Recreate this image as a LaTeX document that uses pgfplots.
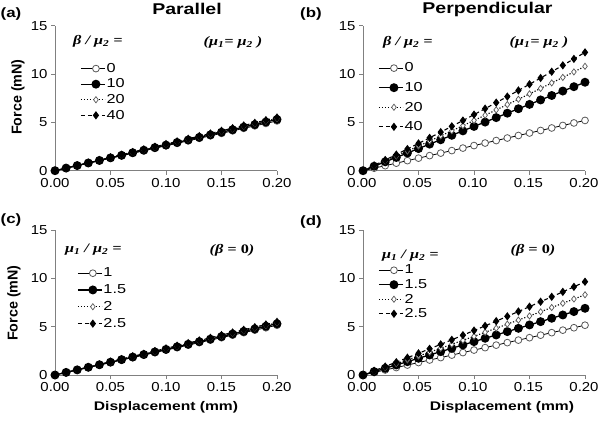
\documentclass[border=0pt]{standalone}
\usepackage{pgfplots}
\usepackage{pgfplotstable}
\pgfplotsset{compat=1.18}
\usepackage{fontspec}
\setmainfont{Liberation Sans}[FakeStretch=1.25]
\newfontfamily\plainsans{Liberation Sans}
\newfontfamily\ticksans{Liberation Sans}[FakeStretch=1.15]
\newfontfamily\ser{Liberation Serif}[FakeStretch=1.25]

\pgfplotstableread{
x s1 s2 s3 s4
0.00 0 0 0 0
0.01 0.26 0.27 0.27 0.28
0.02 0.52 0.53 0.54 0.55
0.03 0.77 0.80 0.81 0.83
0.04 1.03 1.06 1.08 1.10
0.05 1.29 1.33 1.35 1.38
0.06 1.55 1.59 1.62 1.65
0.07 1.80 1.86 1.89 1.93
0.08 2.06 2.12 2.16 2.20
0.09 2.32 2.39 2.43 2.48
0.10 2.58 2.65 2.70 2.75
0.11 2.83 2.92 2.97 3.03
0.12 3.09 3.18 3.24 3.30
0.13 3.35 3.45 3.51 3.58
0.14 3.61 3.71 3.78 3.85
0.15 3.86 3.98 4.05 4.13
0.16 4.12 4.24 4.32 4.40
0.17 4.38 4.51 4.59 4.68
0.18 4.64 4.77 4.86 4.95
0.19 4.89 5.04 5.13 5.23
0.20 5.15 5.30 5.40 5.50
}\tabA

\pgfplotstableread{
x s1 s2 s3 s4
0.00 0 0 0 0
0.01 0.26 0.46 0.50 0.55
0.02 0.52 0.92 1.01 1.11
0.03 0.78 1.37 1.52 1.67
0.04 1.04 1.83 2.03 2.24
0.05 1.30 2.29 2.55 2.82
0.06 1.56 2.75 3.07 3.40
0.07 1.82 3.20 3.60 3.99
0.08 2.08 3.66 4.13 4.59
0.09 2.34 4.12 4.66 5.19
0.10 2.60 4.58 5.20 5.80
0.11 2.86 5.03 5.74 6.42
0.12 3.12 5.49 6.29 7.04
0.13 3.38 5.95 6.84 7.67
0.14 3.64 6.41 7.39 8.30
0.15 3.90 6.86 7.95 8.94
0.16 4.16 7.32 8.51 9.59
0.17 4.42 7.78 9.08 10.24
0.18 4.68 8.24 9.65 10.90
0.19 4.94 8.69 10.22 11.57
0.20 5.20 9.15 10.80 12.24
}\tabB

\pgfplotstableread{
x s1 s2 s3 s4
0.00 0 0 0 0
0.01 0.26 0.27 0.27 0.28
0.02 0.52 0.53 0.54 0.55
0.03 0.77 0.80 0.81 0.83
0.04 1.03 1.06 1.08 1.10
0.05 1.29 1.33 1.35 1.38
0.06 1.55 1.59 1.62 1.65
0.07 1.80 1.86 1.89 1.93
0.08 2.06 2.12 2.16 2.20
0.09 2.32 2.39 2.43 2.48
0.10 2.58 2.65 2.70 2.75
0.11 2.83 2.92 2.97 3.03
0.12 3.09 3.18 3.24 3.30
0.13 3.35 3.45 3.51 3.58
0.14 3.61 3.71 3.78 3.85
0.15 3.86 3.98 4.05 4.13
0.16 4.12 4.24 4.32 4.40
0.17 4.38 4.51 4.59 4.68
0.18 4.64 4.77 4.86 4.95
0.19 4.89 5.04 5.13 5.23
0.20 5.15 5.30 5.40 5.50
}\tabC

\pgfplotstableread{
x s1 s2 s3 s4
0.00 0 0 0 0
0.01 0.26 0.35 0.39 0.44
0.02 0.52 0.69 0.78 0.88
0.03 0.77 1.04 1.17 1.33
0.04 1.03 1.38 1.56 1.79
0.05 1.29 1.73 1.96 2.24
0.06 1.55 2.07 2.36 2.71
0.07 1.80 2.42 2.77 3.17
0.08 2.06 2.76 3.18 3.64
0.09 2.32 3.11 3.59 4.12
0.10 2.58 3.45 4.00 4.60
0.11 2.83 3.80 4.42 5.08
0.12 3.09 4.14 4.84 5.57
0.13 3.35 4.49 5.26 6.07
0.14 3.61 4.83 5.68 6.57
0.15 3.86 5.18 6.11 7.07
0.16 4.12 5.52 6.54 7.58
0.17 4.38 5.87 6.98 8.09
0.18 4.64 6.21 7.42 8.60
0.19 4.89 6.56 7.86 9.12
0.20 5.15 6.90 8.30 9.65
}\tabD

\newcommand{\tickfont}{\ticksans\fontsize{13bp}{15bp}\selectfont}
\newcommand{\legfont}{\fontsize{13bp}{15bp}\selectfont}
\newcommand{\lblfont}{\fontsize{12.5bp}{15bp}\selectfont\bfseries}
\newcommand{\ylblfont}{\plainsans\fontsize{14.3bp}{16bp}\selectfont\bfseries}
\newcommand{\serfont}{\ser\fontsize{13bp}{15bp}\selectfont\bfseries\itshape}
\colorlet{axgray}{black!50}
\colorlet{mkgray}{black!65}

\pgfplotsset{
  panel/.style={
    scale only axis, width=222bp, height=145bp,
    xmin=0, xmax=0.2, ymin=0, ymax=15,
    axis lines=left, axis line style={-, draw=axgray, line width=0.9bp},
    tick align=outside, major tick length=4bp,
    tick style={draw=axgray, line width=0.9bp},
    xtick={0,0.05,0.1,0.15,0.2}, ytick={0,5,10,15},
    scaled x ticks=false,
    xticklabel style={/pgf/number format/fixed, /pgf/number format/fixed zerofill, /pgf/number format/precision=2},
    /pgf/number format/assume math mode=true,
    ticklabel style={font=\tickfont},
    clip=false,
    legend cell align=left,
    legend style={draw=none, fill=none, font=\legfont, anchor=west, inner sep=0pt,
      nodes={inner sep=1bp}},
    legend image code/.code={\draw[mark repeat=2,mark phase=2,##1] plot coordinates {(0bp,0bp) (15bp,0bp) (24bp,0bp)};},
  },
  sA/.style={draw=black, line width=0.8bp, mark=*, mark size=3.4bp,
    mark options={solid, fill=white, draw=mkgray, line width=0.8bp}},
  sB/.style={draw=black, line width=1.3bp, mark=*, mark size=3.8bp,
    mark options={solid, fill=black, draw=black}},
  sC/.style={draw=black, line width=1.1bp, dash pattern=on 1.2bp off 1.8bp, mark=diamond*, mark size=3.1bp,
    mark options={solid, fill=white, draw=mkgray, line width=0.7bp}},
  sD/.style={draw=black, line width=1.1bp, dash pattern=on 4bp off 3bp, mark=diamond*, mark size=3.3bp,
    mark options={solid, fill=black, draw=black}},
}

\begin{document}
\begin{tikzpicture}[x=1bp,y=1bp]
\useasboundingbox (0,0) rectangle (600,421);

% (a)
\begin{axis}[panel, at={(55bp,250.3bp)}, anchor=south west,
  legend style={at={(axis description cs:0.113,0.543)}, row sep=3.0bp}]
\addplot[sA] table[x=x,y=s1] {\tabA}; \addlegendentry{0}
\addplot[sB] table[x=x,y=s2] {\tabA}; \addlegendentry{10}
\addplot[sC] table[x=x,y=s3] {\tabA}; \addlegendentry{20}
\addplot[sD] table[x=x,y=s4] {\tabA}; \addlegendentry{40}
\end{axis}

% (b)
\begin{axis}[panel, at={(363bp,250.3bp)}, anchor=south west,
  xticklabel style={xshift=-1bp},
  legend style={at={(axis description cs:0.068,0.505)}, row sep=7bp}]
\addplot[sA] table[x=x,y=s1] {\tabB}; \addlegendentry{0}
\addplot[sB] table[x=x,y=s2] {\tabB}; \addlegendentry{10}
\addplot[sC] table[x=x,y=s3] {\tabB}; \addlegendentry{20}
\addplot[sD] table[x=x,y=s4] {\tabB}; \addlegendentry{40}
\end{axis}

% (c)
\begin{axis}[panel, at={(55bp,46bp)}, anchor=south west,
  legend style={at={(axis description cs:0.099,0.528)}, row sep=4.3bp}]
\addplot[sA] table[x=x,y=s1] {\tabC}; \addlegendentry{1}
\addplot[sB] table[x=x,y=s2] {\tabC}; \addlegendentry{1.5}
\addplot[sC] table[x=x,y=s3] {\tabC}; \addlegendentry{2}
\addplot[sD] table[x=x,y=s4] {\tabC}; \addlegendentry{2.5}
\end{axis}

% (d)
\begin{axis}[panel, at={(363bp,46bp)}, anchor=south west,
  xticklabel style={xshift=-1bp},
  legend style={at={(axis description cs:0.068,0.572)}, row sep=2.0bp}]
\addplot[sA] table[x=x,y=s1] {\tabD}; \addlegendentry{1}
\addplot[sB] table[x=x,y=s2] {\tabD}; \addlegendentry{1.5}
\addplot[sC] table[x=x,y=s3] {\tabD}; \addlegendentry{2}
\addplot[sD] table[x=x,y=s4] {\tabD}; \addlegendentry{2.5}
\end{axis}

% titles and labels
\node[anchor=base, font=\fontsize{15.6bp}{18bp}\selectfont\bfseries] at (187,406) {Parallel};
\node[anchor=base, font=\fontsize{15.6bp}{18bp}\selectfont\bfseries] at (487.5,407) {Perpendicular};
\node[anchor=base west, font=\fontsize{13.5bp}{16bp}\selectfont\bfseries, inner sep=0pt] at (0.5,403) {(a)};
\node[anchor=base west, font=\fontsize{13.5bp}{16bp}\selectfont\bfseries, inner sep=0pt] at (300,403) {(b)};
\node[anchor=base west, font=\fontsize{13.5bp}{16bp}\selectfont\bfseries, inner sep=0pt] at (0.5,198) {(c)};
\node[anchor=base west, font=\fontsize{13.5bp}{16bp}\selectfont\bfseries, inner sep=0pt] at (300,196) {(d)};
\node[rotate=90, font=\ylblfont, inner sep=0pt] at (18,324) {Force (mN)};
\node[rotate=90, font=\ylblfont, inner sep=0pt] at (14,118) {Force (mN)};
\node[anchor=base, font=\lblfont, inner sep=0pt] at (166,11) {Displacement (mm)};
\node[anchor=base, font=\lblfont, inner sep=0pt] at (502,11) {Displacement (mm)};

% legend titles and annotations
\node[anchor=west, font=\serfont, inner sep=0pt] at (73,380) {β / μ\textsubscript{2} =};
\node[anchor=west, font=\serfont, inner sep=0pt] at (383,379) {β / μ\textsubscript{2} =};
\node[anchor=west, font=\serfont, inner sep=0pt] at (65,171) {μ\textsubscript{1} / μ\textsubscript{2} =};
\node[anchor=west, font=\serfont, inner sep=0pt] at (382,165) {μ\textsubscript{1} / μ\textsubscript{2} =};
\node[font=\serfont, inner sep=0pt] at (233,379) {(μ\textsubscript{1}= μ\textsubscript{2} )};
\node[font=\serfont, inner sep=0pt] at (539,379) {(μ\textsubscript{1}= μ\textsubscript{2} )};
\node[font=\serfont, inner sep=0pt] at (232,171) {({β} = {\upshape 0})};
\node[font=\serfont, inner sep=0pt] at (533,171) {({β} = {\upshape 0})};
\end{tikzpicture}
\end{document}
